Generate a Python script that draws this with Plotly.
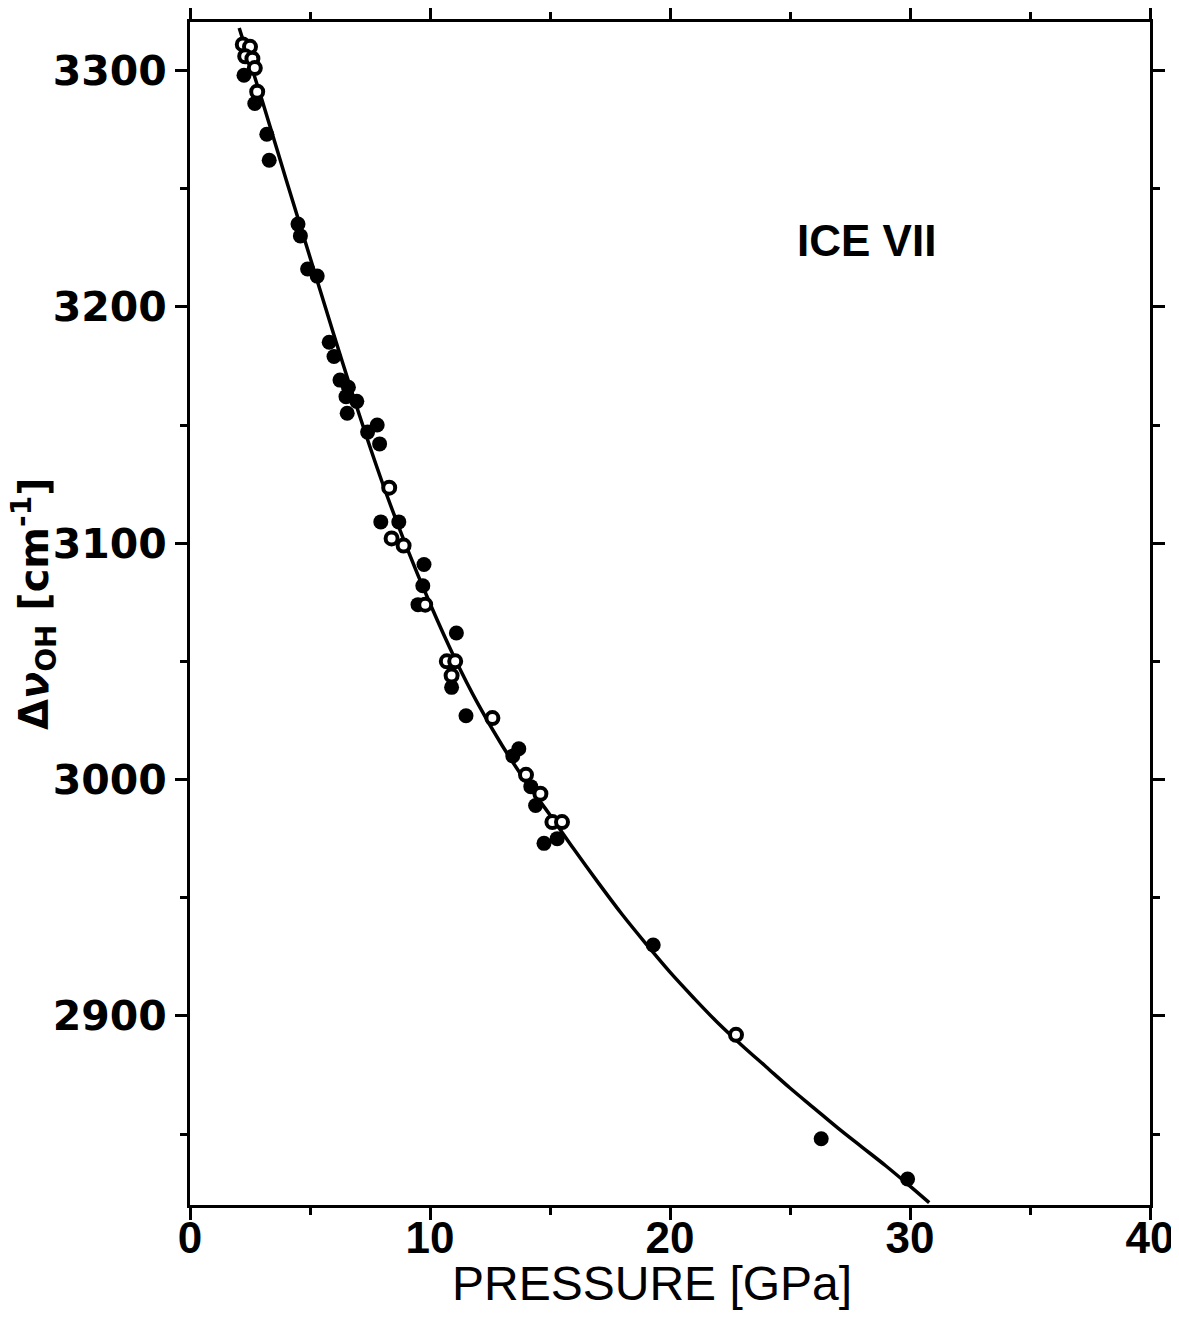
import plotly.graph_objects as go

# Fitted curve
curve_p = [2.05, 3.0, 4.0, 5.0, 6.0, 7.0, 8.0, 9.0, 10.0, 11.0, 12.0, 13.0, 14.0, 15.0,
           16.0, 17.0, 18.0, 19.0, 20.0, 21.0, 22.0, 23.0, 24.0, 25.0, 26.0, 27.0,
           28.0, 29.0, 30.0, 30.8]
curve_v = [3318, 3287.5, 3254, 3221, 3188, 3156, 3126, 3099, 3074.5, 3052, 3032, 3014.5,
           2999, 2985, 2970.5, 2956.5, 2943, 2930.5, 2918.5, 2907.5, 2897, 2887.5,
           2878.5, 2869.5, 2861, 2852.5, 2844.5, 2836.5, 2828, 2821]

# Filled circles
filled_p = [2.25, 2.7, 3.2, 3.3, 4.5, 4.6, 4.9, 5.3, 5.8, 6.0, 6.25, 6.6, 6.5, 6.95, 6.55,
            7.8, 7.4, 7.9, 7.95, 8.7, 9.75, 9.7, 9.5, 11.1, 10.9, 11.5, 13.7, 13.45,
            14.2, 14.4, 14.75, 15.3, 19.3, 26.3, 29.9]
filled_v = [3298, 3286, 3273, 3262, 3235, 3230, 3216, 3213, 3185, 3179, 3169, 3166, 3162,
            3160, 3155, 3150, 3147, 3142, 3109, 3109, 3091, 3082, 3074, 3062, 3039, 3027,
            3013, 3010, 2997, 2989, 2973, 2975, 2930, 2848, 2831]

# Open circles
open_p = [2.2, 2.5, 2.3, 2.6, 2.7, 2.8, 8.3, 8.4, 8.9, 9.8, 10.7, 11.05, 10.9, 12.6,
          14.0, 14.6, 15.1, 15.5, 22.75]
open_v = [3311, 3310, 3306, 3305, 3301, 3291, 3123.5, 3102, 3099, 3074, 3050, 3050, 3044,
          3026, 3002, 2994, 2982, 2982, 2892]

x_ticks = [0, 10, 20, 30, 40]
y_ticks = [2900, 3000, 3100, 3200, 3300]

fig = go.Figure()
fig.add_trace(go.Scatter(x=curve_p, y=curve_v, mode="lines", line_shape="spline",
                         line=dict(color="black", width=3.5), hoverinfo="skip"))
fig.add_trace(go.Scatter(x=filled_p, y=filled_v, mode="markers",
                         marker=dict(color="black", size=15, line=dict(width=0))))
fig.add_trace(go.Scatter(x=open_p, y=open_v, mode="markers",
                         marker=dict(color="white", size=12, line=dict(color="black", width=4))))

axis_common = dict(showline=True, linecolor="black", linewidth=3, mirror="ticks",
                   ticks="outside", tickcolor="black", tickwidth=2.5, ticklen=12,
                   showgrid=False, zeroline=False, automargin=False)

fig.update_xaxes(range=[0, 40], tickvals=x_ticks, ticktext=[str(v) for v in x_ticks],
                 minor=dict(dtick=5, tick0=0, ticks="outside", ticklen=7, tickwidth=2.5,
                            tickcolor="black", showgrid=False),
                 ticklabelstandoff=-20,
                 tickfont=dict(family="Liberation Sans", size=44, color="black", weight="bold"),
                 **axis_common)
fig.update_yaxes(range=[2820, 3320.5], tickvals=y_ticks, ticktext=[str(v) for v in y_ticks],
                 minor=dict(dtick=50, tick0=2800, ticks="outside", ticklen=7, tickwidth=2.5,
                            tickcolor="black", showgrid=False),
                 tickfont=dict(family="DejaVu Sans", size=41, color="black", weight="bold"),
                 **axis_common)

fig.add_annotation(text="ICE VII", x=0.705, y=0.815, xref="paper", yref="paper",
                   showarrow=False, xanchor="center", yanchor="middle",
                   font=dict(family="Liberation Sans", size=44, color="black", weight="bold"))
fig.add_annotation(text="PRESSURE [GPa]", x=0.481, y=-0.066, xref="paper", yref="paper",
                   showarrow=False, xanchor="center", yanchor="middle",
                   font=dict(family="Liberation Sans", size=48, color="black"))
fig.add_annotation(text="Δ<i>ν</i><sub>OH</sub> [cm<sup>-1</sup>]", x=-0.1625, y=0.508,
                   xref="paper", yref="paper", textangle=-90,
                   showarrow=False, xanchor="center", yanchor="middle",
                   font=dict(family="DejaVu Sans", size=40, color="black", weight="bold"))

# page body has an 8 px default margin; compensate so the plot area sits where the reference has it
fig.update_layout(width=1171, height=1320, showlegend=False,
                  margin=dict(l=182, r=29, t=14, b=123),
                  plot_bgcolor="white", paper_bgcolor="white")

fig.write_html("out.html")
